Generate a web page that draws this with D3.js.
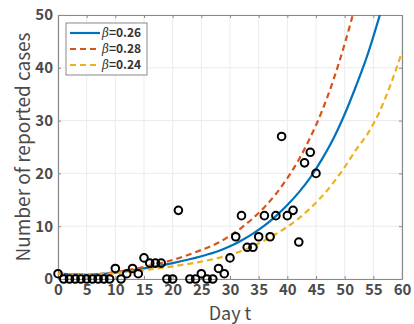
<!DOCTYPE html>
<html>
<head>
<meta charset="utf-8">
<script src="https://cdn.jsdelivr.net/npm/d3@7"></script>
<style>
  html, body { margin: 0; padding: 0; background: #fff; }
  svg text { font-family: "Noto Sans CJK JP", "Noto Sans", sans-serif; }
</style>
</head>
<body>
<div id="chart"></div>
<script>
// reported cases per day
const caseDays = [0,1,2,3,4,5,6,7,8,9,10,11,12,13,14,15,16,17,18,19,20,21,
  23,24,25,26,27,28,29,30,31,32,33,34,35,36,37,38,39,40,41,42,43,44,45];
const caseCounts = [1,0,0,0,0,0,0,0,0,0,2,0,1,2,1,4,3,3,3,0,0,13,
  0,0,1,0,0,2,1,4,8,12,6,6,8,12,8,12,27,12,13,7,22,24,20];

// model curves
const curveDays = [0,5,10,15,20,25,28,30,32,34,36,38,40,42,44,46,48,50,52,54,56,58,60];
const beta26 = [1.0,0.8,1.2,2.0,3.0,4.3,5.3,6.2,7.3,8.6,10.1,11.9,14.0,16.4,19.2,22.6,26.5,31.2,36.6,42.5,49.5,57,65];
const beta28 = [1.0,0.8,1.3,2.3,3.6,5.5,6.9,8.2,9.7,11.5,13.6,16.1,19.1,22.6,26.8,31.7,37.6,44.5,52.5,62,73,86,100];
const beta24 = [1.0,0.75,1.1,1.7,2.4,3.3,4.0,4.6,5.3,6.2,7.3,8.5,9.9,11.5,13.4,15.6,18.2,21.2,24.5,27.5,31.5,36.8,43];

const series = [
  { label: "0.26", values: beta26, color: "#0072bd", dash: null },
  { label: "0.28", values: beta28, color: "#d95319", dash: "6,4" },
  { label: "0.24", values: beta24, color: "#edb120", dash: "6,4" }
];

const xTicks = d3.range(0, 61, 5);
const yTicks = [0, 10, 20, 30, 40, 50];

const width = 414, height = 324;
const margin = { left: 58, right: 12, top: 15, bottom: 45 };

const svg = d3.select("#chart").append("svg")
  .attr("width", width)
  .attr("height", height);

const x = d3.scaleLinear().domain([0, 60]).range([margin.left, width - margin.right]);
const y = d3.scaleLinear().domain([0, 50]).range([height - margin.bottom, margin.top]);

// grid
svg.append("g").selectAll("line.gx").data(xTicks).join("line")
  .attr("x1", d => x(d)).attr("x2", d => x(d))
  .attr("y1", y(0)).attr("y2", y(50))
  .attr("stroke", "#ebebeb").attr("stroke-width", 1);
svg.append("g").selectAll("line.gy").data(yTicks).join("line")
  .attr("x1", x(0)).attr("x2", x(60))
  .attr("y1", d => y(d)).attr("y2", d => y(d))
  .attr("stroke", "#ebebeb").attr("stroke-width", 1);

// axes (inward ticks, box on)
const axisColor = "#8a8a8a";
function styleAxis(g) {
  g.select(".domain").attr("stroke", axisColor).attr("stroke-width", 1.2);
  g.selectAll(".tick line").attr("stroke", axisColor);
  g.selectAll(".tick text").attr("fill", "#4a4a4a")
    .attr("font-size", "15px").attr("font-weight", "bold");
}

svg.append("g")
  .attr("transform", `translate(0,${y(0)})`)
  .call(d3.axisBottom(x).tickValues(xTicks).tickSizeInner(-3).tickSizeOuter(0).tickPadding(5))
  .call(styleAxis);
svg.append("g")
  .attr("transform", `translate(0,${y(50)})`)
  .call(d3.axisTop(x).tickValues(xTicks).tickSizeInner(-3).tickSizeOuter(0).tickFormat(""))
  .call(styleAxis);
svg.append("g")
  .attr("transform", `translate(${x(0)},0)`)
  .call(d3.axisLeft(y).tickValues(yTicks).tickSizeInner(-3).tickSizeOuter(0).tickPadding(5))
  .call(styleAxis);
svg.append("g")
  .attr("transform", `translate(${x(60)},0)`)
  .call(d3.axisRight(y).tickValues(yTicks).tickSizeInner(-3).tickSizeOuter(0).tickFormat(""))
  .call(styleAxis);

// curves
const plot = svg.append("g");
plot.append("clipPath").attr("id", "clip")
  .append("rect")
  .attr("x", x(0)).attr("y", y(50))
  .attr("width", x(60) - x(0)).attr("height", y(0) - y(50));

const line = d3.line()
  .x((d, i) => x(curveDays[i]))
  .y(d => y(d))
  .curve(d3.curveMonotoneX);

plot.selectAll("path.curve").data(series).join("path")
  .attr("class", "curve")
  .attr("clip-path", "url(#clip)")
  .attr("d", d => line(d.values))
  .attr("fill", "none")
  .attr("stroke", d => d.color)
  .attr("stroke-width", 2.2)
  .attr("stroke-dasharray", d => d.dash);

// reported cases
plot.selectAll("circle.case").data(caseDays).join("circle")
  .attr("class", "case")
  .attr("cx", d => x(d))
  .attr("cy", (d, i) => y(caseCounts[i]))
  .attr("r", 3.8)
  .attr("fill", "none")
  .attr("stroke", "#000")
  .attr("stroke-width", 2);

// axis titles
svg.append("text")
  .attr("x", x(30)).attr("y", 320)
  .attr("text-anchor", "middle")
  .attr("fill", "#4a4a4a")
  .attr("font-size", "18px")
  .text("Day t");
svg.append("text")
  .attr("transform", `translate(30,${y(25)}) rotate(-90)`)
  .attr("text-anchor", "middle")
  .attr("fill", "#4a4a4a")
  .attr("font-size", "19px")
  .text("Number of reported cases");

// legend
const legend = svg.append("g").attr("transform", "translate(66,23)");
legend.append("rect")
  .attr("width", 81).attr("height", 52)
  .attr("fill", "#fff")
  .attr("stroke", "#8a8a8a");
const item = legend.selectAll("g.item").data(series).join("g")
  .attr("class", "item")
  .attr("transform", (d, i) => `translate(0,${10 + i * 16})`);
item.append("line")
  .attr("x1", 4).attr("x2", 34)
  .attr("stroke", d => d.color)
  .attr("stroke-width", 2.2)
  .attr("stroke-dasharray", d => d.dash);
const lt = item.append("text")
  .attr("x", 36).attr("dy", "0.35em")
  .attr("fill", "#333")
  .attr("font-size", "12px")
  .attr("font-weight", "bold");
lt.append("tspan").attr("font-style", "italic").attr("font-weight", "normal")
  .attr("font-family", "DejaVu Serif, serif").text("β");
lt.append("tspan").text(d => "=" + d.label);
</script>
</body>
</html>
